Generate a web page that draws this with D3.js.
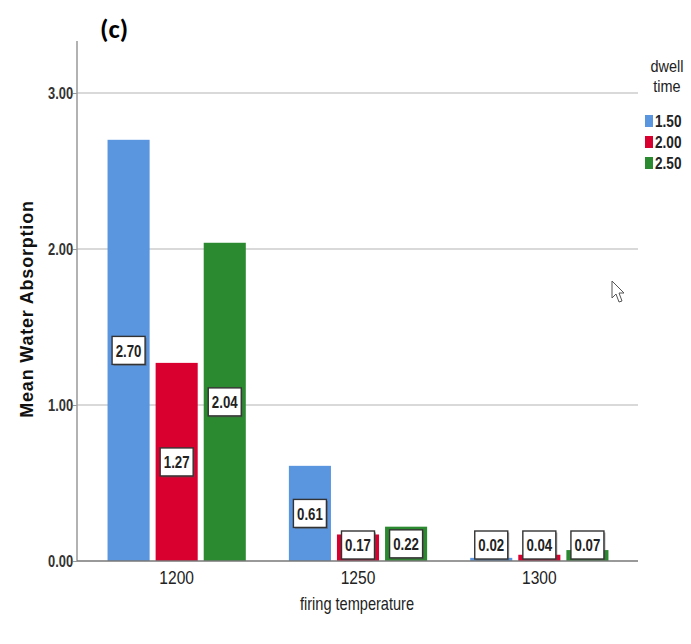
<!DOCTYPE html>
<html>
<head>
<meta charset="utf-8">
<script src="https://cdn.jsdelivr.net/npm/d3@7"></script>
<style>
  html, body { margin: 0; padding: 0; background: #fff; }
  svg { display: block; }
  .narrow { font-family: "Liberation Sans", Arial, sans-serif; }
</style>
</head>
<body>
<svg id="chart" width="691" height="644"></svg>
<script>
// Firing temperature groups and dwell-time series
const temperatures = ["1200", "1250", "1300"];
const dwellTimes = ["1.50", "2.00", "2.50"];
const absorption_150 = [2.70, 0.61, 0.02];
const absorption_200 = [1.27, 0.17, 0.04];
const absorption_250 = [2.04, 0.22, 0.07];
const yTicks = [0, 1, 2, 3];
const seriesColors = ["#5a95e0", "#d9002f", "#2b8a2f"];

const seriesValues = [absorption_150, absorption_200, absorption_250];
const rows = temperatures.map((t, i) => ({
  temp: t,
  values: dwellTimes.map((d, j) => ({ dwell: d, value: seriesValues[j][i], color: seriesColors[j] }))
}));

const svg = d3.select("#chart");
const plot = { left: 77, right: 638, top: 41, bottom: 561 };

// Condensed text: horizontally squeezed glyphs anchored at (x, y)
function squeezed(parent, x, y, s) {
  return parent.append("text").attr("class", "narrow")
    .attr("transform", `translate(${x},${y}) scale(${s},1)`);
}

const y = d3.scaleLinear().domain([0, 3]).range([plot.bottom, 93]);
const x0 = d3.scaleBand().domain(temperatures).range([86, 630])
  .paddingInner(43 / 181).paddingOuter(43 / 362);
const x1 = d3.scaleBand().domain(dwellTimes).range([0, x0.bandwidth()]).paddingInner(0.125);

// Horizontal gridlines
svg.append("g").selectAll("line").data(yTicks.filter(d => d > 0)).join("line")
  .attr("x1", plot.left).attr("x2", plot.right)
  .attr("y1", d => y(d)).attr("y2", d => y(d))
  .attr("stroke", "#b4b4b4").attr("stroke-width", 1.2);

// Bars
const groups = svg.append("g").selectAll("g").data(rows).join("g")
  .attr("transform", d => `translate(${x0(d.temp)},0)`);

groups.selectAll("rect").data(d => d.values).join("rect")
  .attr("x", d => x1(d.dwell))
  .attr("y", d => y(d.value))
  .attr("width", x1.bandwidth())
  .attr("height", d => y(0) - y(d.value))
  .attr("fill", d => d.color);

// Y axis
const yAxis = d3.axisLeft(y).tickValues(yTicks).tickFormat(d3.format(".2f")).tickSize(4);
const gy = svg.append("g").attr("transform", `translate(${plot.left},0)`).call(yAxis);
gy.select(".domain").remove();
gy.selectAll(".tick line").attr("stroke", "#999");
gy.selectAll(".tick text").attr("class", "narrow")
  .attr("font-size", 17).attr("font-weight", "bold").attr("fill", "#333")
  .attr("x", -5).attr("transform", "scale(0.76,1)");
svg.append("line").attr("x1", plot.left).attr("x2", plot.left)
  .attr("y1", plot.top).attr("y2", plot.bottom)
  .attr("stroke", "#999").attr("stroke-width", 1.5);

// X axis baseline and tick labels
const xAxis = d3.axisBottom(x0).tickSize(0).tickPadding(10);
const gx = svg.append("g").attr("transform", `translate(0,${plot.bottom})`).call(xAxis);
gx.select(".domain").remove();
svg.append("line").attr("x1", plot.left).attr("x2", plot.right)
  .attr("y1", plot.bottom).attr("y2", plot.bottom)
  .attr("stroke", "#777").attr("stroke-width", 1.5);
gx.selectAll(".tick text").attr("class", "narrow")
  .attr("font-size", 19).attr("fill", "#222").attr("transform", "scale(0.82,1)");

// Value labels in boxes at bar centres
const boxW = 33, boxH = 28;
const labels = groups.selectAll("g.lbl").data(d => d.values).join("g").attr("class", "lbl")
  .attr("transform", d => {
    const cx = x1(d.dwell) + x1.bandwidth() / 2;
    const mid = (y(d.value) + y(0)) / 2;
    const cy = Math.min(mid, y(0) - 16);
    return `translate(${cx},${cy})`;
  });
labels.append("rect")
  .attr("x", -boxW / 2 + 1.5).attr("y", -boxH / 2 + 1.5)
  .attr("width", boxW).attr("height", boxH)
  .attr("fill", "#555").attr("opacity", 0.5);
labels.append("rect")
  .attr("x", -boxW / 2).attr("y", -boxH / 2)
  .attr("width", boxW).attr("height", boxH)
  .attr("fill", "#fff").attr("stroke", "#333").attr("stroke-width", 1.4);
labels.append("text").attr("class", "narrow")
  .attr("text-anchor", "middle").attr("dy", "0.36em")
  .attr("transform", "scale(0.78,1)")
  .attr("font-size", 17).attr("font-weight", "bold").attr("fill", "#222")
  .text(d => d3.format(".2f")(d.value));

// Axis titles
svg.append("text")
  .attr("transform", "translate(33,309) rotate(-90)")
  .attr("text-anchor", "middle")
  .attr("font-family", "Liberation Sans, Arial, sans-serif")
  .attr("font-size", 18).attr("font-weight", "bold").attr("fill", "#111")
  .attr("letter-spacing", 0.8)
  .text("Mean Water Absorption");

squeezed(svg, 357, 610, 0.81)
  .attr("text-anchor", "middle")
  .attr("font-size", 18).attr("fill", "#222")
  .text("firing temperature");

// Panel tag
svg.append("text")
  .attr("x", 100).attr("y", 38)
  .attr("font-family", "Carlito, Calibri, 'Open Sans', sans-serif")
  .attr("font-size", 27).attr("font-weight", "bold").attr("fill", "#000")
  .text("(c)");

// Legend
const legend = svg.append("g");
squeezed(legend, 667, 72, 0.85).attr("text-anchor", "middle")
  .attr("font-size", 17).attr("fill", "#222").text("dwell");
squeezed(legend, 667, 92, 0.85).attr("text-anchor", "middle")
  .attr("font-size", 17).attr("fill", "#222").text("time");
const items = legend.selectAll("g.item").data(dwellTimes).join("g").attr("class", "item")
  .attr("transform", (d, i) => `translate(645,${121 + i * 21})`);
items.append("rect").attr("x", 0).attr("y", -6).attr("width", 8).attr("height", 12)
  .attr("fill", (d, i) => seriesColors[i]);
items.append("text").attr("class", "narrow")
  .attr("transform", "translate(10,0) scale(0.85,1)")
  .attr("dy", "0.36em")
  .attr("font-size", 16).attr("font-weight", "bold").attr("fill", "#222")
  .text(d => d);

// Mouse pointer
svg.append("path")
  .attr("d", "M612,281 L612,298 L616,294 L619,302 L622,301 L619,293 L624,293 Z")
  .attr("fill", "#fff").attr("stroke", "#555").attr("stroke-width", 1);
</script>
</body>
</html>
